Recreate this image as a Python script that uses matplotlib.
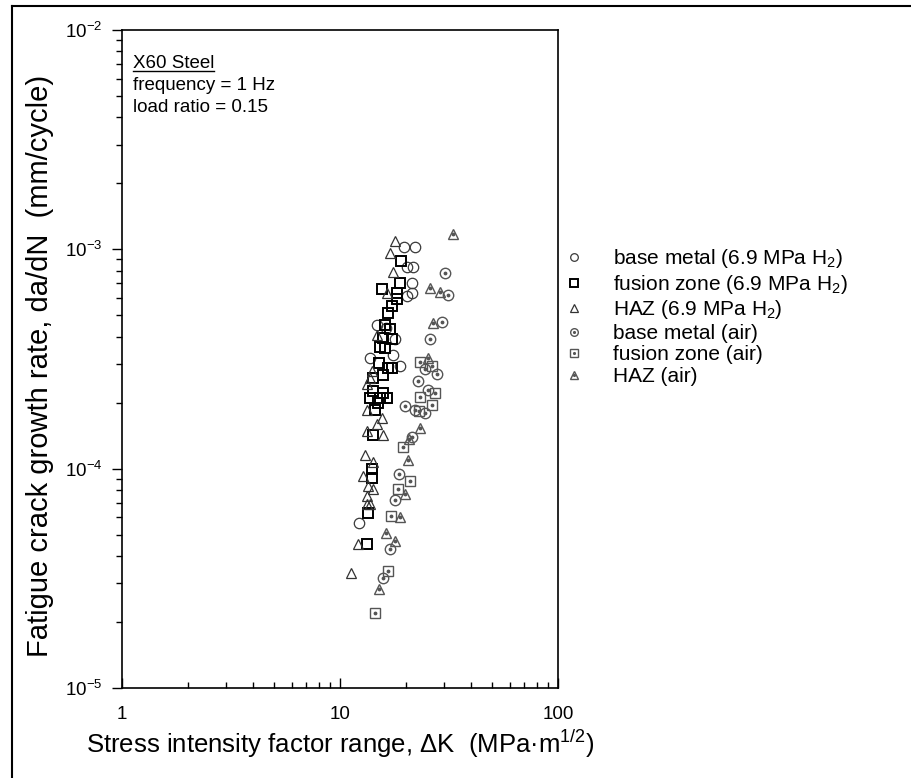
import numpy as np
import matplotlib.pyplot as plt
from matplotlib.lines import Line2D
from matplotlib.legend_handler import HandlerTuple
from matplotlib.ticker import LogLocator, FixedLocator, FixedFormatter, NullFormatter

plt.rcParams['font.family'] = ['Liberation Sans', 'DejaVu Sans']
plt.rcParams['mathtext.default'] = 'regular'
plt.rcParams['axes.unicode_minus'] = False

# base metal, 6.9 MPa H2
bm_h2_dk = [19.66, 22.08, 21.62, 20.29, 21.39, 21.39, 20.29, 14.78, 17.88, 13.73,
            18.85, 12.22, 16.26, 17.51]
bm_h2_rate = [1.02e-3, 1.02e-3, 8.28e-4, 8.28e-4, 7.00e-4, 6.30e-4, 6.10e-4, 4.50e-4,
              3.92e-4, 3.18e-4, 2.95e-4, 5.67e-5, 4.40e-4, 3.30e-4]
# fusion zone, 6.9 MPa H2
fz_h2_dk = [19.05, 18.85, 15.58, 18.26, 18.26, 17.32, 16.61, 16.08, 16.96, 15.75,
            17.32, 15.26, 16.08, 15.10, 16.61, 17.32, 14.17, 15.75, 14.17, 15.75,
            13.73, 15.26, 16.43, 14.94, 14.47, 14.17, 14.02, 14.02, 13.44, 13.30]
fz_h2_rate = [8.81e-4, 7.00e-4, 6.57e-4, 6.30e-4, 5.91e-4, 5.49e-4, 5.10e-4, 4.50e-4,
              4.31e-4, 3.96e-4, 3.92e-4, 3.57e-4, 3.53e-4, 3.02e-4, 2.89e-4, 2.89e-4,
              2.60e-4, 2.66e-4, 2.25e-4, 2.22e-4, 2.11e-4, 2.11e-4, 2.11e-4, 2.00e-4,
              1.86e-4, 1.42e-4, 1.00e-4, 9.10e-5, 6.30e-5, 4.54e-5]
# HAZ, 6.9 MPa H2
haz_h2_dk = [17.88, 16.96, 17.51, 16.43, 14.78, 14.02, 13.73, 13.30, 13.30, 15.58,
             14.78, 13.30, 15.75, 13.02, 14.17, 12.75, 13.44, 14.17, 13.30, 13.30,
             13.73, 12.09, 11.23]
haz_h2_rate = [1.088e-3, 9.59e-4, 7.85e-4, 6.30e-4, 4.05e-4, 2.80e-4, 2.60e-4, 2.44e-4,
               1.86e-4, 1.71e-4, 1.59e-4, 1.49e-4, 1.43e-4, 1.15e-4, 1.07e-4, 9.29e-5,
               8.36e-5, 8.10e-5, 7.53e-5, 6.92e-5, 6.92e-5, 4.54e-5, 3.35e-5]
# base metal, air
bm_air_dk = [30.32, 31.29, 29.37, 25.87, 24.54, 27.86, 22.79, 25.33, 19.87, 22.08,
             24.54, 21.39, 18.65, 17.88, 16.96, 15.75]
bm_air_rate = [7.77e-4, 6.17e-4, 4.64e-4, 3.92e-4, 2.86e-4, 2.71e-4, 2.52e-4, 2.29e-4,
               1.94e-4, 1.86e-4, 1.80e-4, 1.40e-4, 9.49e-5, 7.22e-5, 4.31e-5, 3.18e-5]
# fusion zone, air
fz_air_dk = [23.28, 26.42, 27.28, 23.28, 26.42, 23.03, 19.45, 20.94, 18.46, 17.14,
             16.61, 14.47]
fz_air_rate = [3.05e-4, 2.95e-4, 2.22e-4, 2.13e-4, 1.96e-4, 1.84e-4, 1.25e-4, 8.82e-5,
               8.10e-5, 6.10e-5, 3.42e-5, 2.20e-5]
# HAZ, air
haz_air_dk = [32.98, 25.87, 28.76, 26.71, 25.33, 23.28, 20.72, 20.50, 19.87, 18.85,
              16.26, 17.88, 15.10]
haz_air_rate = [1.171e-3, 6.64e-4, 6.36e-4, 4.59e-4, 3.21e-4, 1.54e-4, 1.37e-4, 1.09e-4,
                7.69e-5, 6.04e-5, 5.10e-5, 4.69e-5, 2.83e-5]

labels = ['base metal (6.9 MPa H$_2$)', 'fusion zone (6.9 MPa H$_2$)', 'HAZ (6.9 MPa H$_2$)',
          'base metal (air)', 'fusion zone (air)', 'HAZ (air)']

fig = plt.figure(figsize=(9.11, 7.78), dpi=100)
ax = fig.add_axes([0.1339, 0.1157, 0.4786, 0.8458])

series = [
    (bm_h2_dk, bm_h2_rate, 'o', '#3a3a3a', 0.9, False),
    (fz_h2_dk, fz_h2_rate, 's', '#000000', 1.4, False),
    (haz_h2_dk, haz_h2_rate, '^', '#333333', 0.9, False),
    (bm_air_dk, bm_air_rate, 'o', '#555555', 1.0, True),
    (fz_air_dk, fz_air_rate, 's', '#555555', 1.0, True),
    (haz_air_dk, haz_air_rate, '^', '#555555', 1.0, True),
]

handles = []
for dk, rate, m, c, lw, dot in series:
    ax.plot(dk, rate, ls='none', marker=m, ms=7.5, mfc='none', mec=c, mew=lw)
    h = [Line2D([], [], ls='none', marker=m, ms=5.5, mfc='none', mec=c, mew=lw)]
    if dot:
        ax.plot(dk, rate, ls='none', marker='.', ms=3.5, color=c)
        h.append(Line2D([], [], ls='none', marker='.', ms=2.5, color=c))
    handles.append(tuple(h))

ax.set_xscale('log')
ax.set_yscale('log')
ax.set_xlim(1, 100)
ax.set_ylim(1e-5, 1e-2)

ax.xaxis.set_major_locator(FixedLocator([1, 10, 100]))
ax.xaxis.set_major_formatter(FixedFormatter(['1', '10', '100']))
ax.xaxis.set_minor_locator(LogLocator(base=10, subs=np.arange(2, 10)))
ax.xaxis.set_minor_formatter(NullFormatter())
ax.yaxis.set_minor_locator(LogLocator(base=10, subs=np.arange(2, 10)))
ax.yaxis.set_minor_formatter(NullFormatter())

ax.tick_params(axis='y', which='major', direction='out', length=7, width=1, labelsize=13.5, pad=7)
ax.tick_params(axis='y', which='minor', direction='out', length=4, width=1)
ax.tick_params(axis='x', which='major', direction='in', length=7, width=1, labelsize=13.5, pad=13)
ax.tick_params(axis='x', which='minor', direction='in', length=4, width=1)
for s in ax.spines.values():
    s.set_linewidth(1.2)

ax.set_xlabel('Stress intensity factor range, ΔK  (MPa·m$^{1/2}$)', fontsize=18.5)
ax.set_ylabel('Fatigue crack growth rate, da/dN  (mm/cycle)', fontsize=21)
ax.xaxis.set_label_coords(0.5, -0.06)
ax.yaxis.set_label_coords(-0.155, 0.49)

t = ax.text(0.025, 0.942, 'X60 Steel', transform=ax.transAxes, fontsize=13.5)
ax.text(0.025, 0.909, 'frequency = 1 Hz', transform=ax.transAxes, fontsize=13.5)
ax.text(0.025, 0.876, 'load ratio = 0.15', transform=ax.transAxes, fontsize=13.5)

leg = ax.legend(handles, labels, handler_map={tuple: HandlerTuple(ndivide=1, pad=0)},
                loc='upper left', bbox_to_anchor=(0.619, 0.682), bbox_transform=fig.transFigure,
                frameon=False, fontsize=15, handlelength=1.0, handletextpad=1.35,
                labelspacing=0.12, borderaxespad=0, borderpad=0)

# frame of the page: only the top and left edges are in view
fig.add_artist(Line2D([0.013, 0.013], [0.0, 0.992], lw=1.5, color='black', transform=fig.transFigure))
fig.add_artist(Line2D([0.013, 1.0], [0.992, 0.992], lw=1.5, color='black', transform=fig.transFigure))

# underline the title
fig.canvas.draw()
bb = t.get_window_extent()
inv = fig.transFigure.inverted()
(x0, y0), (x1, _) = inv.transform([(bb.x0, bb.y0 + 1), (bb.x1, bb.y0 + 1)])
fig.add_artist(Line2D([x0, x1], [y0, y0], lw=1, color='black', transform=fig.transFigure))

fig.savefig('out.png', dpi=100)
